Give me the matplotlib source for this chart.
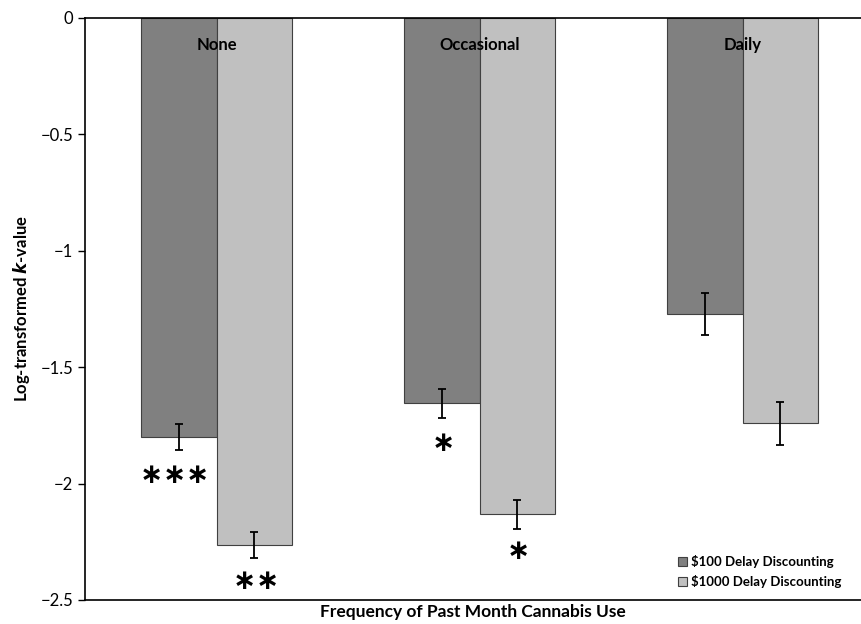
import numpy as np
import matplotlib.pyplot as plt

plt.rcParams['font.family'] = ['Lato', 'DejaVu Sans']

groups = ['None', 'Occasional', 'Daily']
k100 = [-1.80, -1.655, -1.27]
k100_err = [0.057, 0.062, 0.09]
k1000 = [-2.265, -2.132, -1.741]
k1000_err = [0.056, 0.062, 0.092]
stars100 = [3, 1, 0]
stars1000 = [2, 1, 0]

W, H = 861, 624
fig = plt.figure(figsize=(W / 100, H / 100), dpi=100)
ax = fig.add_axes([85 / W, 24 / H, (861 - 85) / W, (600 - 18) / H])

x = np.arange(len(groups))
w = 0.287
ax.bar(x - w / 2, k100, w, color='#808080', edgecolor='#404040', linewidth=0.8,
       label=r'\$100 Delay Discounting')
ax.bar(x + w / 2, k1000, w, color='#c0c0c0', edgecolor='#404040', linewidth=0.8,
       label=r'\$1000 Delay Discounting')
ax.errorbar(x - w / 2, k100, yerr=k100_err, fmt='none', ecolor='black',
            elinewidth=1.3, capsize=3, capthick=1.3)
ax.errorbar(x + w / 2, k1000, yerr=k1000_err, fmt='none', ecolor='black',
            elinewidth=1.3, capsize=3, capthick=1.3)


def put_stars(xc, yc, n, drop):
    pitch = 16.5
    shift = -3 if n > 2 else 1
    for j in range(n):
        dx = (j - (n - 1) / 2) * pitch + shift
        ax.annotate('\u2217', (xc, yc), xytext=(dx, -drop), textcoords='offset points',
                    ha='center', va='center', fontsize=20, fontweight='bold',
                    family='DejaVu Sans')


for i in range(len(groups)):
    ax.text(x[i], -0.115, groups[i], ha='center', va='center',
            fontsize=12, fontweight='bold')
    put_stars(x[i] - w / 2, k100[i] - k100_err[i], stars100[i], 18)
    put_stars(x[i] + w / 2, k1000[i] - k1000_err[i], stars1000[i], 16)

ax.set_xlim(-0.5, 2.45)
ax.set_ylim(-2.5, 0)
ax.set_yticks([0, -0.5, -1, -1.5, -2, -2.5])
ax.set_yticklabels(['0', '\u22120.5', '\u22121', '\u22121.5', '\u22122', '\u22122.5'])
ax.set_xticks([])
ax.tick_params(axis='y', labelsize=12, length=5, width=1)
for s in ['left', 'top', 'bottom']:
    ax.spines[s].set_linewidth(1.2)
ax.spines['right'].set_visible(False)

ax.set_ylabel('Log-transformed $\\mathbfit{k}$-value', fontsize=12, fontweight='bold', labelpad=6)
ax.set_xlabel('Frequency of Past Month Cannabis Use', fontsize=12.5, fontweight='bold', labelpad=3)

ax.legend(loc='lower right', bbox_to_anchor=(0.99, 0.0), frameon=False,
          handlelength=0.7, handleheight=0.7, handletextpad=0.3,
          labelspacing=0.55, prop={'weight': 'bold', 'size': 9.5})

fig.savefig('out.png', dpi=100)
